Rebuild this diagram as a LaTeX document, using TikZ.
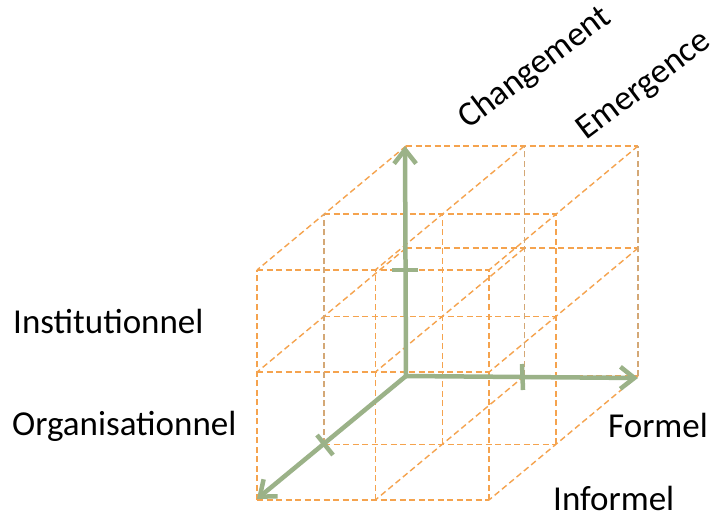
\documentclass[tikz,border=0pt]{standalone}
\usepackage{fontspec}
\setmainfont{Carlito}
\usetikzlibrary{arrows.meta}
\definecolor{axisgreen}{RGB}{155,178,136}
\definecolor{gridorange}{RGB}{245,163,78}
\definecolor{gridtan}{RGB}{212,168,118}
\begin{document}
\begin{tikzpicture}[x=1pt,y=-1pt,
  grid/.style={draw=gridorange, dash pattern=on 6pt off 3.5pt, line width=1.4pt},
  gridt/.style={grid, draw=gridtan},
  axis/.style={draw=axisgreen, line width=4.5pt, line cap=round, -{Straight Barb[length=14pt,width=22pt]}},
  tickmark/.style={draw=axisgreen, line width=4.5pt},
  lbl/.style={font=\fontsize{35}{42}\selectfont, inner sep=0pt, text=black}]
\useasboundingbox (0,0) rectangle (722,518);
\fill[white] (0,0) rectangle (722,518);
\begin{scope}[shift={(406pt,-376pt)}, x={(232pt,0pt)}, y={(0pt,230pt)}, z={(-149pt,-124pt)}]
  \def\im{0.51}\def\jm{0.556}\def\km{0.55}
  % lines along x
  \foreach \j in {0,\jm,1}{
    \foreach \k in {0,\km,1}{
      \draw[grid] (0,\j,\k) -- (1,\j,\k);
    }
  }
  % lines along y
  \foreach \i in {0,\im,1}{
    \foreach \k in {0,\km,1}{
      \draw[grid] (\i,0,\k) -- (\i,1,\k);
    }
  }
  % lines along z
  \foreach \i in {0,\im,1}{
    \foreach \j in {0,\jm,1}{
      \draw[grid] (\i,\j,0) -- (\i,\j,1);
    }
  }
  % tan-looking lines
  \draw[gridt] (\im,0,0) -- (\im,1,0);
  \draw[gridt] (1,0,0) -- (1,1,0);
  \draw[gridt] (0,0,\km) -- (0,1,\km);
\end{scope}
% axes
\coordinate (O) at (406,376);
\coordinate (V) at (405,146);
\coordinate (H) at (638,378);
\coordinate (D) at (257,499);
\draw[axis] (O) -- (V);
\draw[axis] (O) -- (H);
\draw[axis] (O) -- (D);
% ticks
\coordinate (tv1) at (392,270); \coordinate (tv2) at (418,270);
\coordinate (th1) at (522,364); \coordinate (th2) at (523,390);
\coordinate (td1) at (317,435); \coordinate (td2) at (333,455);
\draw[tickmark] (tv1) -- (tv2);
\draw[tickmark] (th1) -- (th2);
\draw[tickmark] (td1) -- (td2);
% labels
\node[lbl, anchor=base west] (inst) at (13,333) {Institutionnel};
\node[lbl, anchor=base west] (org) at (12,435) {Organisationnel};
\node[lbl, anchor=base west] (form) at (608,437) {Formel};
\node[lbl, anchor=base west] (inform) at (553,510) {Informel};
\node[lbl, anchor=base west, rotate=37] (chg) at (468,130) {Changement};
\node[lbl, anchor=base west, rotate=37] (emg) at (586,141) {Emergence};
\end{tikzpicture}
\end{document}
